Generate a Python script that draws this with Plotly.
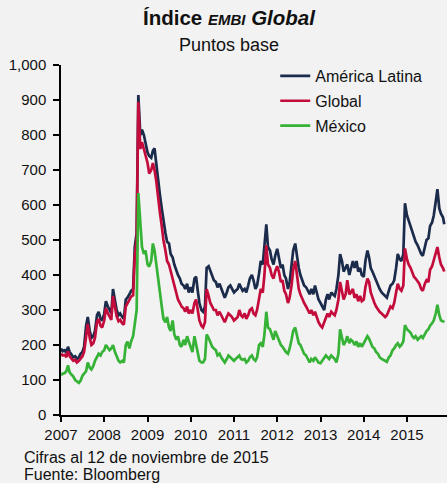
import pandas as pd
import plotly.graph_objects as go

# Semi-monthly sample dates (1st and 15th), last point 12 Nov 2015
dates = list(pd.date_range("2007-01-01", "2015-11-01", freq="SMS")) + [pd.Timestamp("2015-11-12")]

america_latina = (
    [190,182,185,178,195,180,172,165,168,160,165,175,180,195,255,280,240,220,225,240,285,295,275,270] +  # 2007
    [290,325,310,300,290,360,320,300,285,290,280,275,330,335,345,355,360,480,520,914,800,815,800,780] +  # 2008
    [750,740,735,755,762,720,660,630,590,555,520,495,490,460,450,430,410,400,390,375,370,360,375,350] +  # 2009
    [365,350,390,395,355,320,300,295,310,420,425,410,400,385,380,365,375,360,345,335,350,365,370,360] +  # 2010
    [350,355,360,375,365,355,360,350,370,390,400,385,360,370,405,440,430,480,545,480,470,445,430,455] +  # 2011
    [475,450,420,430,400,390,360,380,420,470,490,450,420,400,380,370,365,355,345,360,345,370,345,330] +  # 2012
    [320,310,300,330,345,330,350,345,340,360,400,460,440,410,420,430,400,420,440,420,440,410,420,400] +  # 2013
    [395,440,470,450,420,410,395,385,370,360,350,345,340,335,355,370,375,385,420,460,445,440,460,605] +  # 2014
    [570,555,540,520,510,495,485,475,460,455,485,500,505,540,550,570,610,645,590,575,565,545]            # 2015
)

global_embi = (
    [175,170,172,165,182,168,160,155,158,150,155,162,168,180,235,260,220,200,205,220,265,275,255,250] +
    [270,305,290,280,272,340,300,282,268,272,262,258,310,318,328,338,342,455,500,895,760,780,760,740] +
    [720,690,700,720,700,670,610,580,540,500,470,440,430,410,390,370,350,330,320,310,305,295,310,290] +
    [300,290,320,330,300,270,255,250,265,360,340,320,310,300,300,285,295,285,275,265,280,290,285,280] +
    [270,275,280,300,285,280,290,275,285,300,305,290,285,300,330,360,350,400,485,430,420,400,390,410] +
    [425,410,380,385,355,345,320,335,370,415,440,400,360,345,330,320,310,300,290,300,285,295,275,265] +
    [255,250,265,280,290,280,295,290,285,300,330,380,355,330,345,385,345,350,360,335,345,325,340,325] +
    [330,365,390,380,350,335,320,310,300,295,290,285,280,285,300,310,305,320,350,375,360,355,370,476] +
    [445,430,420,405,395,390,380,375,360,355,375,385,380,415,425,440,460,480,450,430,420,410]
)

mexico = (
    [114,118,120,125,142,122,115,110,100,95,92,98,112,118,125,150,135,130,140,155,165,175,170,180] +
    [185,200,192,185,190,200,180,165,155,150,155,150,200,210,190,210,225,260,300,634,540,480,460,470] +
    [430,424,440,490,470,430,380,350,310,275,265,280,250,240,270,230,215,225,200,195,215,200,225,210] +
    [195,180,225,200,170,155,150,150,160,230,220,205,195,190,185,170,175,165,155,150,160,170,165,160] +
    [155,160,165,170,160,158,160,150,155,165,170,160,155,165,200,205,195,230,295,250,245,230,215,240] +
    [225,215,200,195,185,180,175,190,215,240,250,225,205,200,185,175,170,160,150,160,155,165,155,150] +
    [148,155,160,170,165,160,170,165,160,150,175,245,215,200,210,225,205,215,210,200,210,195,205,195] +
    [205,215,225,218,205,195,190,180,175,165,160,158,155,152,165,170,185,190,200,205,195,200,210,257] +
    [245,240,235,225,220,225,215,220,225,220,230,240,245,255,262,270,290,315,285,270,268,265]
)

series_names = ["América Latina", "Global", "México"]
series_colors = ["#1b2b4b", "#c40c3c", "#36b236"]
y_ticks = list(range(0, 1001, 100))

FONT = "Liberation Sans, Arial, sans-serif"
TXT = "#111111"

fig = go.Figure()
for i, (name, vals, col) in enumerate(zip(series_names, [america_latina, global_embi, mexico], series_colors)):
    fig.add_trace(go.Scatter(
        x=dates, y=vals, mode="lines", name=name,
        line=dict(color=col, width=2.7), legendgroup=f"g{i}",
    ))

fig.update_layout(
    width=447, height=483,
    paper_bgcolor="#f2f2f2", plot_bgcolor="#f2f2f2",
    margin=dict(l=61, r=0, t=65, b=68, autoexpand=False),
    font=dict(family=FONT, size=15, color=TXT),
    title=dict(
        text="<b>Índice <i><span style='font-size:15px'>EMBI</span> Global</i></b>",
        x=229 / 447, xref="container", xanchor="center",
        y=1 - 18 / 483, yref="container", yanchor="middle",
        font=dict(family=FONT, size=20.5, color=TXT),
    ),
    showlegend=True,
    legend=dict(
        x=0.555, y=1.017, xanchor="left", yanchor="top",
        bgcolor="rgba(0,0,0,0)", borderwidth=0,
        font=dict(family=FONT, size=16, color=TXT),
        tracegroupgap=1,
    ),
    xaxis=dict(
        range=["2007-01-01", "2015-12-05"],
        showline=True, linecolor="#000000", linewidth=1.5,
        ticks="outside", ticklen=5, tickwidth=1.5, tickcolor="#000000",
        dtick="M12", tick0="2007-01-01", tickformat="%Y",
        showgrid=False, zeroline=False, automargin=False,
        tickfont=dict(family=FONT, size=15, color=TXT),
    ),
    yaxis=dict(
        range=[0, 1000], tickvals=y_ticks, tickformat=",d",
        showline=True, linecolor="#000000", linewidth=1.5,
        ticks="outside", ticklen=6, tickwidth=1.5, tickcolor="#000000",
        ticklabelstandoff=4,
        showgrid=False, zeroline=False, automargin=False,
        tickfont=dict(family=FONT, size=15, color=TXT),
    ),
    annotations=[
        dict(text="Puntos base", xref="paper", yref="paper",
             x=(229 - 61) / 386, y=(415 - 45) / 350, xanchor="center", yanchor="middle",
             showarrow=False, font=dict(family=FONT, size=18, color=TXT)),
        dict(text="Cifras al 12 de noviembre de 2015", xref="paper", yref="paper",
             x=(22 - 61) / 386, y=(415 - 457) / 350, xanchor="left", yanchor="middle",
             showarrow=False, font=dict(family=FONT, size=16, color=TXT)),
        dict(text="Fuente: Bloomberg", xref="paper", yref="paper",
             x=(22 - 61) / 386, y=(415 - 474) / 350, xanchor="left", yanchor="middle",
             showarrow=False, font=dict(family=FONT, size=16, color=TXT)),
    ],
)

fig.write_html("out.html", config={"displayModeBar": False},
               post_script="document.body.style.margin='0px';")
